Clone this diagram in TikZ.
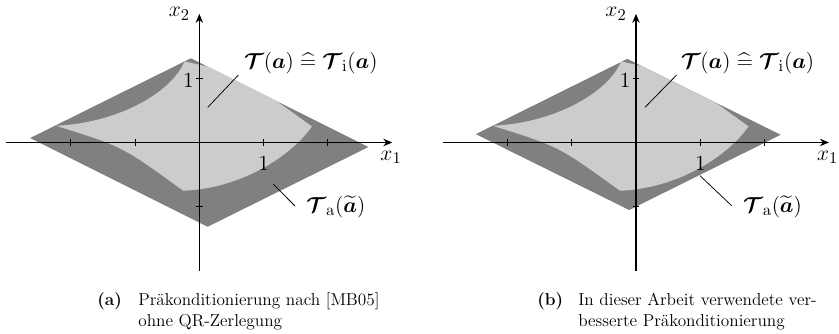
\documentclass[tikz,border=0pt]{standalone}
\usepackage{amsmath,bm}
\usetikzlibrary{arrows.meta}
\newcommand\lightregion{(-2.23,0.26) .. controls (-1.3,0.3) and (-0.45,0.75) .. (-0.23,1.26) .. controls (0.6,1.08) .. (1.75,0.25) .. controls (1.4,-0.25) and (0.6,-0.72) .. (-0.25,-0.75) .. controls (-1.2,-0.06) .. cycle}
\newcommand\setT{$\bm{\mathcal{T}}(\bm{a})\mathrel{\widehat{=}}\bm{\mathcal{T}}_{\mathrm{i}}(\bm{a})$}
\newcommand\setTa{$\bm{\mathcal{T}}_{\mathrm{a}}(\widetilde{\bm{a}})$}
\begin{document}
\begin{tikzpicture}[x=42.87pt,y=42.87pt,
  darkfill/.style={fill=black!50},
  lightfill/.style={fill=black!20},
  axisline/.style={line width=0.7pt,-{Stealth[length=6pt,width=5pt,inset=2pt]}},
  tickline/.style={line width=0.7pt},
  leader/.style={line width=0.5pt},
  lbl/.style={font=\fontsize{15}{18}\selectfont, inner sep=1pt},
  captext/.style={font=\fontsize{11.5}{14}\selectfont, inner sep=0pt, anchor=base west},
  caplabel/.style={font=\fontsize{11.5}{14}\selectfont\bfseries, inner sep=0pt, anchor=base west}]
\useasboundingbox (-3.10,-2.963) rectangle (9.947,2.216);
% ---------- panel (a)
\begin{scope}
  \fill[darkfill] (-2.63,0.07) -- (-0.13,1.31) -- (2.63,-0.07) -- (0.13,-1.31) -- cycle;
  \begin{scope}
    \clip (-2.63,0.07) -- (-0.13,1.31) -- (2.63,-0.07) -- (0.13,-1.31) -- cycle;
    \fill[lightfill] \lightregion;
  \end{scope}
  \coordinate (ax0) at (-3,0); \coordinate (ax1) at (3,0);
  \coordinate (ay0) at (0,-2); \coordinate (ay1) at (0,2);
  \draw[axisline] (ax0) -- (ax1);
  \draw[axisline] (ay0) -- (ay1);
  \foreach \i in {-2,-1,1,2} \draw[tickline] (\i,-0.052) -- (\i,0.052);
  \foreach \i in {-1,1} \draw[tickline] (-0.052,\i) -- (0.052,\i);
  \node[lbl] (ax1lab) at (2.98,-0.23) {$x_1$};
  \node[lbl,anchor=east] (ax2lab) at (-0.12,2.0) {$x_2$};
  \node[lbl] (atx) at (1.0,-0.32) {$1$};
  \node[lbl] (aty) at (-0.17,0.97) {$1$};
  \node[lbl] (aT) at (1.734,1.236) {\setT};
  \node[lbl] (aTa) at (2.123,-0.998) {\setTa};
  \coordinate (aL1s) at (0.607,1.049); \coordinate (aL1e) at (0.131,0.547);
  \coordinate (aL2s) at (1.488,-0.988); \coordinate (aL2e) at (1.151,-0.650);
  \draw[leader] (aL1s) -- (aL1e);
  \draw[leader] (aL2s) -- (aL2e);
  \node[caplabel] (acapl) at (-1.591,-2.54) {(a)};
  \node[captext] (acap1) at (-0.953,-2.54) {Präkonditionierung nach [MB05]};
  \node[captext] (acap2) at (-0.953,-2.865) {ohne QR-Zerlegung};
\end{scope}
% ---------- panel (b)
\begin{scope}[shift={(6.79,0)}]
  \fill[darkfill] (-2.49,0.13) -- (-0.135,1.30) -- (2.25,0.12) -- (-0.105,-1.05) -- cycle;
  \begin{scope}
    \clip (-2.49,0.13) -- (-0.135,1.30) -- (2.25,0.12) -- (-0.105,-1.05) -- cycle;
    \fill[lightfill] \lightregion;
  \end{scope}
  \coordinate (bx0) at (-3,0); \coordinate (bx1) at (3,0);
  \coordinate (by0) at (0,-2); \coordinate (by1) at (0,2);
  \draw[axisline] (bx0) -- (bx1);
  \draw[axisline] (by0) -- (by1);
  \foreach \i in {-2,-1,1,2} \draw[tickline] (\i,-0.052) -- (\i,0.052);
  \foreach \i in {-1,1} \draw[tickline] (-0.052,\i) -- (0.052,\i);
  \node[lbl] (bx1lab) at (2.98,-0.23) {$x_1$};
  \node[lbl,anchor=east] (bx2lab) at (-0.12,2.0) {$x_2$};
  \node[lbl] (btx) at (1.0,-0.32) {$1$};
  \node[lbl] (bty) at (-0.17,0.97) {$1$};
  \node[lbl] (bT) at (1.734,1.236) {\setT};
  \node[lbl] (bTa) at (2.123,-0.998) {\setTa};
  \coordinate (bL1s) at (0.633,1.05); \coordinate (bL1e) at (0.140,0.547);
  \coordinate (bL2s) at (1.488,-0.983); \coordinate (bL2e) at (0.995,-0.516);
  \draw[leader] (bL1s) -- (bL1e);
  \draw[leader] (bL2s) -- (bL2e);
\end{scope}
\node[caplabel] (bcapl) at (5.252,-2.54) {(b)};
\node[captext] (bcap1) at (5.889,-2.54) {In dieser Arbeit verwendete ver-};
\node[captext] (bcap2) at (5.889,-2.865) {besserte Präkonditionierung};
\end{tikzpicture}
\end{document}
